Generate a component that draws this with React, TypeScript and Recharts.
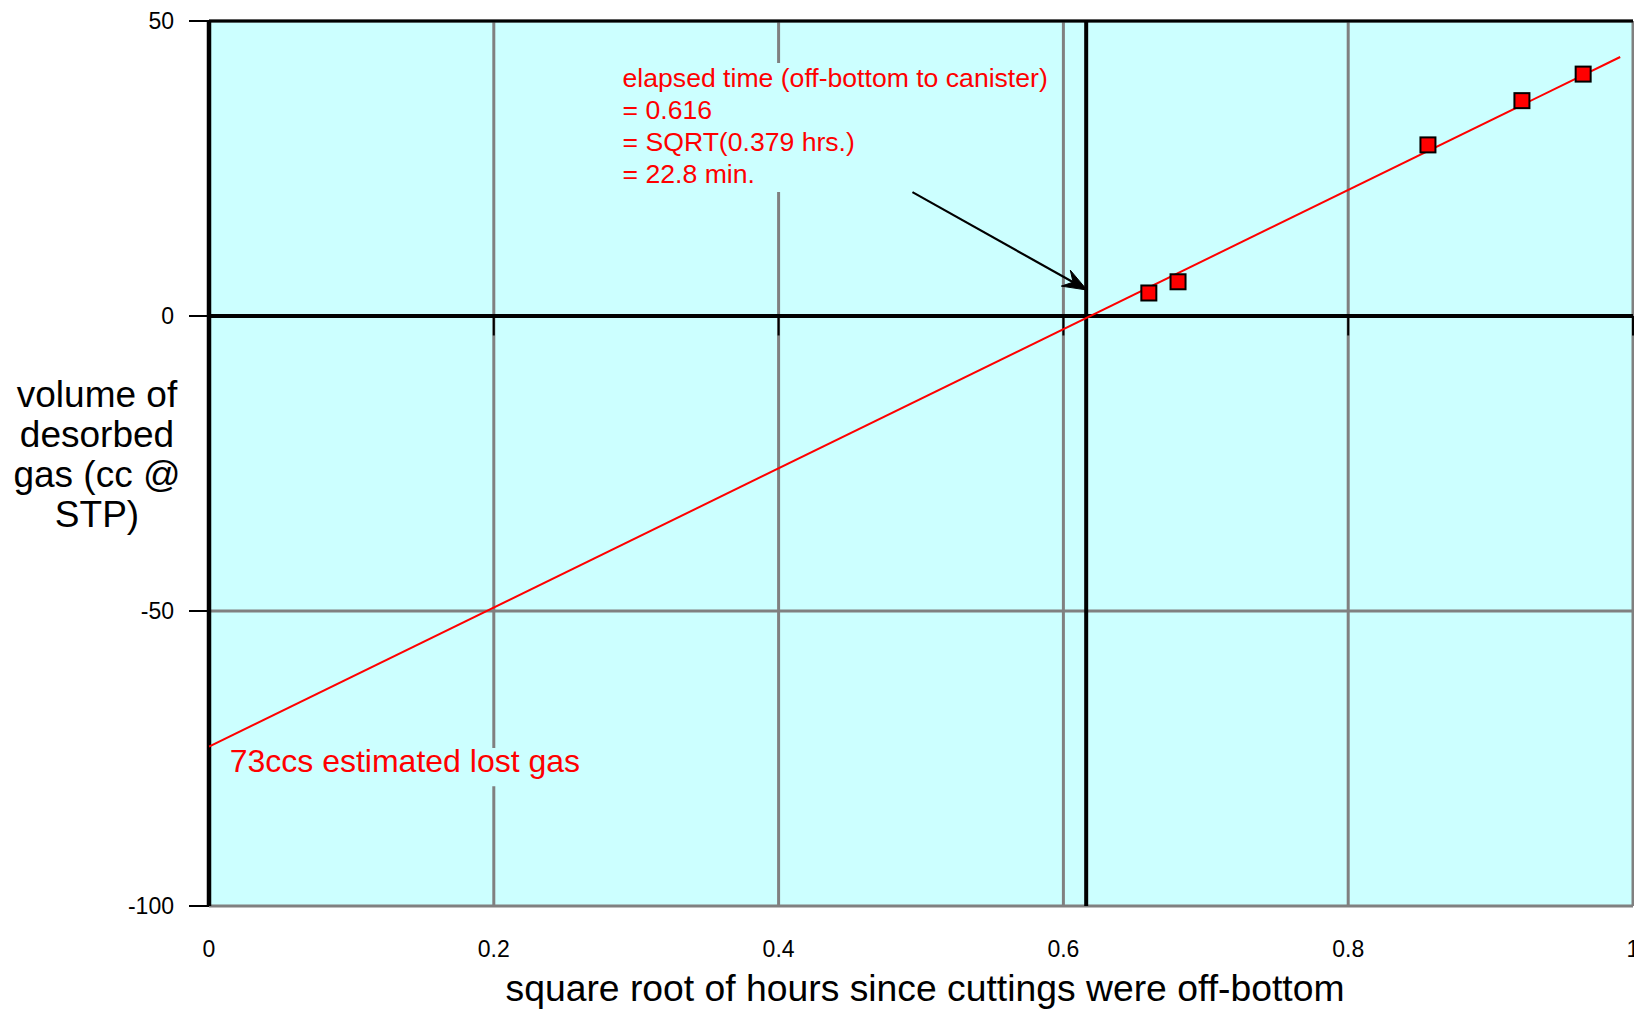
import React from 'react';
import {
  ComposedChart,
  XAxis,
  YAxis,
  CartesianGrid,
  Line,
  Scatter,
  ReferenceLine,
  ReferenceArea,
  Label,
} from 'recharts';

// ---------- data ----------
const xTicks = [0, 0.2, 0.4, 0.6, 0.8, 1];
const yTicks = [-100, -50, 0, 50];
const xDomain = [0, 1];
const yDomain = [-100, 50];

const sampleX = [0.66, 0.6805, 0.856, 0.922, 0.965];
const sampleY = [3.9, 5.8, 29.0, 36.5, 41.0];

const fitX = [0, 0.991];
const fitY = [-73, 43.9];

const elapsedSqrtHours = 0.616;

const arrowFrom = { x: 0.494, y: 21.0 };
const arrowTo = { x: 0.6166, y: 4.4 };

const elapsedBoxX = [0.282, 0.594];
const elapsedBoxY = [21.0, 42.9];
const lostBoxX = [0.011, 0.268];
const lostBoxY = [-79.7, -73.2];

const annotationLines = [
  'elapsed time (off-bottom to canister)',
  '= 0.616',
  '= SQRT(0.379 hrs.)',
  '= 22.8 min.',
];
const lostGasLabel = '73ccs estimated lost gas';
const yLabelLines = ['volume of', 'desorbed', 'gas (cc @', 'STP)'];
const xLabel = 'square root of hours since cuttings were off-bottom';
const xTickLabels = ['0', '0.2', '0.4', '0.6', '0.8', '1'];

// ---------- derived tables ----------
const samples = sampleX.map((x, i) => ({ x, y: sampleY[i] }));
const fit = fitX.map((x, i) => ({ x, y: fitY[i] }));

const FONT = "'Liberation Sans', Arial, Helvetica, sans-serif";
const BG = '#ccffff';
const GRID = '#808080';
const RED = '#ff0000';

const SquareMarker = (props: any) => {
  const { cx, cy } = props;
  if (cx == null || cy == null) return null;
  return (
    <rect
      x={cx - 7.5}
      y={cy - 7.5}
      width={15}
      height={15}
      fill={RED}
      stroke="#000"
      strokeWidth={2}
    />
  );
};

const XTick = (props: any) => {
  const { x, y, index } = props;
  return (
    <text
      x={x}
      y={y + 51}
      textAnchor="middle"
      fontSize={23}
      fontFamily={FONT}
      fill="#000"
    >
      {xTickLabels[index] ?? ''}
    </text>
  );
};

const renderYLabel = (props: any) => {
  const vb = props.viewBox || { x: 0, y: 0, width: 0, height: 0 };
  const cx = vb.x + 97;
  const cy = vb.y + vb.height / 2;
  return (
    <text
      x={cx}
      y={cy}
      textAnchor="middle"
      fontSize={37}
      fontFamily={FONT}
      fill="#000"
    >
      {yLabelLines.map((l, i) => (
        <tspan key={i} x={cx} y={cy - 57 + i * 40}>
          {l}
        </tspan>
      ))}
    </text>
  );
};

const renderXLabel = (props: any) => {
  const vb = props.viewBox || { x: 0, y: 0, width: 0, height: 0 };
  return (
    <text
      x={vb.x + vb.width / 2 + 4}
      y={vb.y + 95}
      textAnchor="middle"
      fontSize={37.3}
      fontFamily={FONT}
      fill="#000"
    >
      {xLabel}
    </text>
  );
};

const renderElapsed = (props: any) => {
  const vb = props.viewBox || { x: 0, y: 0 };
  return (
    <text fontSize={26.6} fontFamily={FONT} fill={RED}>
      {annotationLines.map((l, i) => (
        <tspan key={i} x={vb.x + 12} y={vb.y + 24 + i * 32}>
          {l}
        </tspan>
      ))}
    </text>
  );
};

const renderLost = (props: any) => {
  const vb = props.viewBox || { x: 0, y: 0 };
  return (
    <text
      x={vb.x + 5}
      y={vb.y + 24}
      fontSize={32}
      fontFamily={FONT}
      fill={RED}
    >
      {lostGasLabel}
    </text>
  );
};

const ArrowShape = (props: any) => {
  const { x1, y1, x2, y2 } = props;
  if ([x1, y1, x2, y2].some((v) => v == null || Number.isNaN(v))) return null;
  const ang = Math.atan2(y2 - y1, x2 - x1);
  const len = 26;
  const spread = 0.36;
  const b1x = x2 - len * Math.cos(ang - spread);
  const b1y = y2 - len * Math.sin(ang - spread);
  const b2x = x2 - len * Math.cos(ang + spread);
  const b2y = y2 - len * Math.sin(ang + spread);
  const mx = x2 - 16 * Math.cos(ang);
  const my = y2 - 16 * Math.sin(ang);
  return (
    <g>
      <line x1={x1} y1={y1} x2={x2} y2={y2} stroke="#000" strokeWidth={2.2} />
      <path
        d={`M${x2},${y2} L${b1x},${b1y} L${mx},${my} L${b2x},${b2y} Z`}
        fill="#000"
        stroke="#000"
        strokeWidth={1}
      />
    </g>
  );
};

export default function App() {
  return (
    <div
      style={{
        position: 'absolute',
        left: 0,
        top: 0,
        width: 1634,
        height: 1011,
        overflow: 'hidden',
        background: '#fff',
      }}
    >
      <ComposedChart
        width={1634}
        height={1011}
        margin={{ top: 21, right: 1, bottom: 0, left: 0 }}
      >
        <CartesianGrid
          fill={BG}
          fillOpacity={1}
          stroke={GRID}
          strokeWidth={3}
          strokeDasharray=""
        />
        <XAxis
          type="number"
          dataKey="x"
          domain={xDomain}
          ticks={xTicks}
          interval={0}
          allowDataOverflow
          axisLine={false}
          tickLine={false}
          tickSize={0}
          tickMargin={0}
          height={105}
          tick={<XTick />}
        >
          <Label content={renderXLabel} />
        </XAxis>
        <YAxis
          type="number"
          dataKey="y"
          domain={yDomain}
          ticks={yTicks}
          interval={0}
          allowDataOverflow
          width={209}
          axisLine={false}
          tickLine={{ stroke: '#000', strokeWidth: 2 }}
          tickSize={20}
          tickMargin={15}
          tick={{ fontSize: 23, fill: '#000', fontFamily: FONT }}
        >
          <Label content={renderYLabel} />
        </YAxis>

        <ReferenceArea
          x1={elapsedBoxX[0]}
          x2={elapsedBoxX[1]}
          y1={elapsedBoxY[0]}
          y2={elapsedBoxY[1]}
          fill={BG}
          fillOpacity={1}
          stroke="none"
          label={renderElapsed}
        />
        <ReferenceArea
          x1={lostBoxX[0]}
          x2={lostBoxX[1]}
          y1={lostBoxY[0]}
          y2={lostBoxY[1]}
          fill={BG}
          fillOpacity={1}
          stroke="none"
          label={renderLost}
        />

        <ReferenceLine y={yDomain[1]} stroke="#000" strokeWidth={3} />
        <ReferenceLine x={xDomain[0]} stroke="#000" strokeWidth={4.5} />
        <ReferenceLine y={0} stroke="#000" strokeWidth={4} />
        <ReferenceLine x={elapsedSqrtHours} stroke="#000" strokeWidth={4} />
        {xTicks
          .filter((t) => t > 0)
          .map((t) => (
            <ReferenceLine
              key={`tk${t}`}
              segment={[
                { x: t, y: 0 },
                { x: t, y: -3.3 },
              ]}
              stroke="#000"
              strokeWidth={2}
            />
          ))}

        <Line
          data={fit}
          dataKey="y"
          type="linear"
          stroke={RED}
          strokeWidth={2}
          dot={false}
          activeDot={false}
          isAnimationActive={false}
        />
        <Scatter
          data={samples}
          dataKey="y"
          shape={<SquareMarker />}
          isAnimationActive={false}
        />
        <ReferenceLine
          segment={[arrowFrom, arrowTo]}
          shape={<ArrowShape />}
        />
      </ComposedChart>
    </div>
  );
}
